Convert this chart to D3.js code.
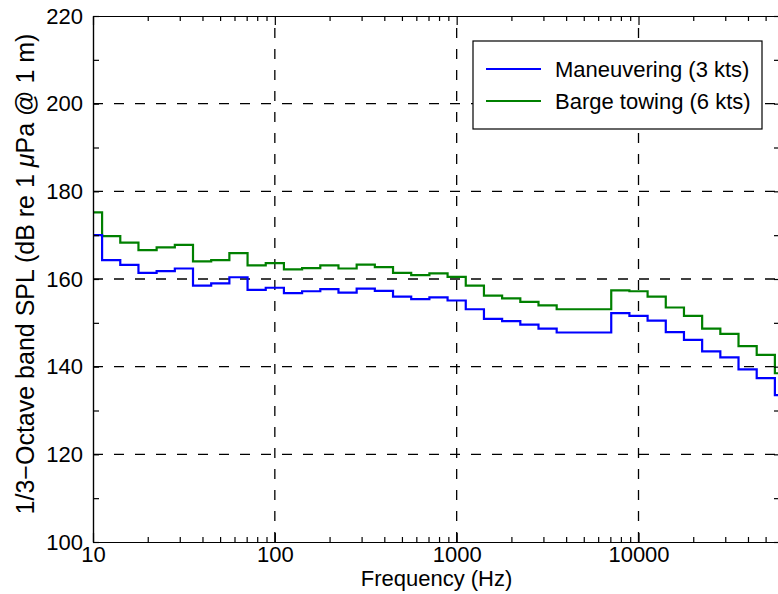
<!DOCTYPE html>
<html>
<head>
<meta charset="utf-8">
<script src="https://cdnjs.cloudflare.com/ajax/libs/d3/7.8.5/d3.min.js"></script>
<style>
html,body{margin:0;padding:0;background:#fff;}
svg{display:block;}
text{font-family:"Liberation Sans",Arial,Helvetica,sans-serif;fill:#000;}
</style>
</head>
<body>
<svg id="chart" width="778" height="594"></svg>
<script>
// 1/3-octave band nominal centre frequencies (Hz)
const bands = [10, 12.5, 16, 20, 25, 31.5, 40, 50, 63, 80, 100, 125, 160, 200, 250, 315, 400, 500, 630, 800,
  1000, 1250, 1600, 2000, 2500, 3150, 4000, 5000, 6300, 8000, 10000, 12500, 16000, 20000, 25000, 31500, 40000, 50000, 63000];
// band index (exact centre = 10^(n/10))
const bandIndex = [10,11,12,13,14,15,16,17,18,19,20,21,22,23,24,25,26,27,28,29,30,31,32,33,34,35,36,37,38,39,40,41,42,43,44,45,46,47,48];

const maneuvering = [170.0, 164.3, 163.2, 161.4, 161.8, 162.4, 158.5, 159.0, 160.4, 157.5, 158.0, 156.8, 157.2, 157.7, 156.9, 157.8, 157.3, 156.0, 155.4, 155.8,
  155.1, 153.1, 150.9, 150.4, 149.6, 148.7, 147.8, 147.8, 147.8, 152.2, 151.6, 150.5, 147.9, 146.1, 143.5, 142.1, 139.4, 137.4, 133.5];
const bargeTowing = [175.2, 169.8, 168.3, 166.6, 167.2, 167.8, 164.0, 164.3, 165.9, 163.1, 163.6, 162.2, 162.5, 163.1, 162.4, 163.3, 162.7, 161.4, 160.9, 161.3,
  160.5, 158.5, 156.2, 155.6, 154.8, 154.0, 153.1, 153.1, 153.1, 157.4, 157.2, 156.0, 153.5, 151.6, 148.7, 147.5, 144.7, 142.7, 138.5];

const seriesNames = ["Maneuvering (3 kts)", "Barge towing (6 kts)"];
const seriesColors = ["#0000ff", "#008000"];

const xMajorTicks = [10, 100, 1000, 10000];
const xTickLabels = ["10", "100", "1000", "10000"];
const yMajorTicks = [100, 120, 140, 160, 180, 200, 220];
const yMinorTicks = [110, 130, 150, 170, 190, 210];
const xDomain = [10, 60000];
const yDomain = [100, 220];

const svg = d3.select("#chart");
const L = 93, R = 780, T = 16, B = 542;
const FS = 22;
const x = d3.scaleLog().domain(xDomain).range([L, R]);
const y = d3.scaleLinear().domain(yDomain).range([B, T]);

// minor ticks for log axis
const xMinor = [];
[10, 100, 1000, 10000].forEach(d => { for (let k = 2; k <= 9; k++) { const v = d * k; if (v < xDomain[1]) xMinor.push(v); } });

svg.append("defs").append("clipPath").attr("id", "clip")
  .append("rect").attr("x", L).attr("y", T).attr("width", R - L).attr("height", B - T);

// grid
const grid = svg.append("g");
grid.selectAll("line.gx").data(xMajorTicks.filter(d => d > xDomain[0])).enter().append("line")
  .attr("x1", d => x(d)).attr("x2", d => x(d)).attr("y1", B).attr("y2", T)
  .attr("stroke", "#000").attr("stroke-width", 1.3).attr("stroke-dasharray", "10,11");
grid.selectAll("line.gy").data(yMajorTicks.filter(d => d > yDomain[0] && d < yDomain[1])).enter().append("line")
  .attr("x1", L).attr("x2", R).attr("y1", d => y(d)).attr("y2", d => y(d))
  .attr("stroke", "#000").attr("stroke-width", 1.3).attr("stroke-dasharray", "10,11");

// stair lines
function stairPoints(vals) {
  const pts = vals.map((v, i) => [Math.pow(10, (bandIndex[i] - 0.5) / 10), v]);
  pts.push([Math.pow(10, (bandIndex[vals.length - 1] + 0.5) / 10), vals[vals.length - 1]]);
  return pts;
}
const line = d3.line().x(d => x(d[0])).y(d => y(d[1])).curve(d3.curveStepAfter);
const dataG = svg.append("g").attr("clip-path", "url(#clip)");
[bargeTowing, maneuvering].forEach((vals, j) => {
  dataG.append("path").datum(stairPoints(vals)).attr("d", line)
    .attr("fill", "none").attr("stroke", j === 0 ? seriesColors[1] : seriesColors[0]).attr("stroke-width", 2.2);
});

// axes
function styleAxis(g) {
  g.select(".domain").attr("stroke", "#000").attr("stroke-width", 1.2);
  g.selectAll(".tick line").attr("stroke", "#000").attr("stroke-width", 1.2);
}
const fmt = d => xTickLabels[xMajorTicks.indexOf(d)] || "";
const xb = svg.append("g").attr("transform", `translate(0,${B})`)
  .call(d3.axisBottom(x).tickValues(xMajorTicks).tickFormat(fmt).tickSizeInner(-9).tickSizeOuter(0).tickPadding(4));
xb.selectAll(".tick text").attr("font-size", FS).attr("dy", "0.71em");
styleAxis(xb);
const xbm = svg.append("g").attr("transform", `translate(0,${B})`)
  .call(d3.axisBottom(x).tickValues(xMinor).tickFormat("").tickSizeInner(-5).tickSizeOuter(0));
styleAxis(xbm);
const xt = svg.append("g").attr("transform", `translate(0,${T})`)
  .call(d3.axisTop(x).tickValues(xMajorTicks).tickFormat("").tickSizeInner(-9).tickSizeOuter(0));
styleAxis(xt);
const xtm = svg.append("g").attr("transform", `translate(0,${T})`)
  .call(d3.axisTop(x).tickValues(xMinor).tickFormat("").tickSizeInner(-5).tickSizeOuter(0));
styleAxis(xtm);

const yl = svg.append("g").attr("transform", `translate(${L},0)`)
  .call(d3.axisLeft(y).tickValues(yMajorTicks).tickSizeInner(-6).tickSizeOuter(0).tickPadding(10));
yl.selectAll(".tick text").attr("font-size", FS);
styleAxis(yl);
const ylm = svg.append("g").attr("transform", `translate(${L},0)`)
  .call(d3.axisLeft(y).tickValues(yMinorTicks).tickFormat("").tickSizeInner(-6).tickSizeOuter(0));
styleAxis(ylm);
const yr = svg.append("g").attr("transform", `translate(${R},0)`)
  .call(d3.axisRight(y).tickValues(yMajorTicks.concat(yMinorTicks)).tickFormat("").tickSizeInner(-6).tickSizeOuter(0));
styleAxis(yr);
svg.selectAll(".tick text").attr("font-family", "Liberation Sans, Arial, sans-serif");

// axis labels
svg.append("text").attr("x", (L + R) / 2).attr("y", 586).attr("text-anchor", "middle")
  .attr("font-size", FS).text("Frequency (Hz)");
const yt = svg.append("text").attr("transform", `translate(34,274) rotate(-90)`)
  .attr("text-anchor", "middle").attr("font-size", 25);
yt.append("tspan").text("1/3\u2212Octave band SPL (dB re 1 ");
yt.append("tspan").attr("font-style", "italic").text("\u03bc");
yt.append("tspan").text("Pa @ 1 m)");

// legend
const lg = svg.append("g");
lg.append("rect").attr("x", 473).attr("y", 41).attr("width", 289).attr("height", 88)
  .attr("fill", "#fff").attr("stroke", "#000").attr("stroke-width", 1.2);
seriesNames.forEach((name, i) => {
  const yy = 69 + i * 32;
  lg.append("line").attr("x1", 486).attr("x2", 541).attr("y1", yy).attr("y2", yy)
    .attr("stroke", seriesColors[i]).attr("stroke-width", 2.2);
  lg.append("text").attr("x", 555).attr("y", yy).attr("dy", "0.36em")
    .attr("font-size", FS).text(name);
});
</script>
</body>
</html>
